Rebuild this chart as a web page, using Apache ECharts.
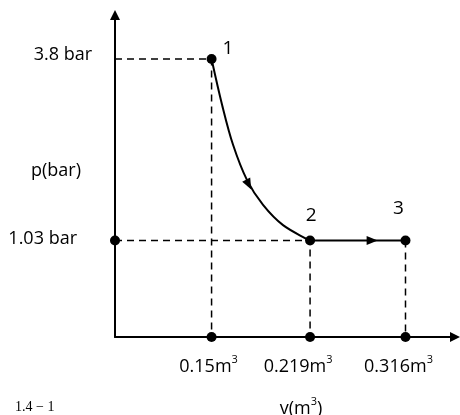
<!DOCTYPE html>
<html>
<head>
<meta charset="utf-8">
<script src="https://cdn.jsdelivr.net/npm/echarts@6/dist/echarts.min.js"></script>
<style>
  html, body { margin: 0; padding: 0; background: #fff; }
  #chart { width: 460px; height: 415px; }
</style>
</head>
<body>
<div id="chart"></div>
<script>
// state points 1, 2, 3
const stateNames = ['1', '2', '3'];
const volume = [0.15, 0.219, 0.316];   // m³
const pressure = [3.8, 1.03, 1.03];    // bar

// tick labels
const volumeLabels = ['0.15', '0.219', '0.316'];
const pressureTicks = [3.8, 1.03];
const pressureLabels = ['3.8 bar', '1.03 bar'];

// process 1 -> 2
const curveV = [0.15, 0.1562, 0.1629, 0.1719, 0.1828, 0.1974, 0.219];
const curveP = [3.8, 2.73, 2.05, 1.59, 1.33, 1.15, 1.03];

// direction arrows on the paths
const arrowV = [0.173, 0.278];
const arrowP = [1.54, 1.03];
const arrowAngle = [-153, -90];

// axis extents (sketch is drawn on log-like spacing)
const V_MIN = 0.1035, V_MAX = 0.3822;
const P_MIN = 0.5145, P_MAX = 5.214;

const FONT = '"Open Sans", "Noto Sans", sans-serif';
const BLACK = '#000';

// layout tweaks for the labels
const stateLabelPos = [
  { position: 'right', offset: [1, -10] },
  { position: 'top', offset: [1, -5] },
  { position: 'top', offset: [-7, -12] },
];
const volumeLabelShift = [-3, -12, -7];
const pressureLabelGap = [23, 33];
const pressureLabelLift = [-4.5, -2];

const supRich = {
  a: { fontFamily: FONT, fontSize: 18, color: BLACK, lineHeight: 20, padding: [6, 0, 0, 0] },
  s: { fontFamily: FONT, fontSize: 11, color: BLACK, lineHeight: 11, verticalAlign: 'top' },
};

const chart = echarts.init(document.getElementById('chart'), null, { renderer: 'canvas' });

const dashed = { color: BLACK, width: 1.5, type: [7, 5] };

// dashed guides from each state to the axes
const guideSeries = volume.map((v, i) => {
  const firstAtLevel = pressure.indexOf(pressure[i]) === i;
  const data = firstAtLevel
    ? [[V_MIN, pressure[i]], [v, pressure[i]], [v, P_MIN]]
    : [[v, pressure[i]], [v, P_MIN]];
  return {
    type: 'line',
    data,
    showSymbol: false,
    clip: false,
    silent: true,
    lineStyle: dashed,
    z: 1,
  };
});

const dot = { color: BLACK, opacity: 1 };

const option = {
  animation: false,
  backgroundColor: '#fff',
  grid: { left: 115, right: 5, top: 15, bottom: 78, outerBoundsMode: 'none', containLabel: false },
  xAxis: {
    type: 'log',
    min: V_MIN,
    max: V_MAX,
    name: '{a|v(m}{s|3}{a|)}',
    nameLocation: 'middle',
    nameGap: 59,
    nameTextStyle: { rich: supRich, padding: [0, 0, 0, 32] },
    axisLine: {
      lineStyle: { color: BLACK, width: 2 },
      symbol: ['none', 'triangle'],
      symbolSize: [10, 10],
    },
    axisTick: { show: false },
    axisLabel: { show: false },
    splitLine: { show: false },
  },
  yAxis: {
    type: 'log',
    min: P_MIN,
    max: P_MAX,
    name: 'p(bar)',
    nameLocation: 'middle',
    nameRotate: 0,
    nameGap: 34,
    nameTextStyle: {
      fontFamily: FONT,
      fontSize: 18,
      color: BLACK,
      verticalAlign: 'bottom',
      lineHeight: 10,
    },
    axisLine: {
      lineStyle: { color: BLACK, width: 2 },
      symbol: ['none', 'triangle'],
      symbolSize: [10, 10],
    },
    axisTick: { show: false },
    axisLabel: { show: false },
    splitLine: { show: false },
  },
  graphic: [
    {
      type: 'text',
      left: 15,
      top: 400,
      style: { text: '1.4 \u2212 1', font: '14px "Liberation Serif"', fill: BLACK },
    },
  ],
  series: [
    ...guideSeries,
    // process 1 -> 2
    {
      type: 'line',
      data: curveV.map((v, i) => [v, curveP[i]]),
      smooth: 0.35,
      showSymbol: false,
      clip: false,
      lineStyle: { color: BLACK, width: 2 },
      z: 2,
    },
    // process 2 -> 3
    {
      type: 'line',
      data: [[volume[1], pressure[1]], [volume[2], pressure[2]]],
      showSymbol: false,
      clip: false,
      lineStyle: { color: BLACK, width: 2 },
      z: 2,
    },
    // arrows
    {
      type: 'scatter',
      data: arrowV.map((v, i) => ({ value: [v, arrowP[i]], symbolRotate: arrowAngle[i] })),
      symbol: 'triangle',
      symbolSize: [9, 11],
      clip: false,
      itemStyle: dot,
      z: 3,
    },
    // state points
    {
      type: 'scatter',
      data: volume.map((v, i) => ({
        value: [v, pressure[i]],
        label: {
          show: true,
          formatter: stateNames[i],
          position: stateLabelPos[i].position,
          offset: stateLabelPos[i].offset,
        },
      })),
      symbolSize: 10,
      clip: false,
      itemStyle: dot,
      label: { fontFamily: FONT, fontSize: 19, color: BLACK },
      z: 4,
    },
    // volume ticks on the v axis
    {
      type: 'scatter',
      data: volume.map((v, i) => ({
        value: [v, P_MIN],
        label: { offset: [volumeLabelShift[i], 0] },
      })),
      symbolSize: 10,
      clip: false,
      itemStyle: dot,
      label: {
        show: true,
        position: 'bottom',
        distance: 12,
        formatter: (p) => '{a|' + volumeLabels[p.dataIndex] + 'm}{s|3}',
        rich: supRich,
      },
      z: 4,
    },
    // pressure ticks on the p axis
    {
      type: 'scatter',
      data: pressureTicks.map((p, i) => ({
        value: [V_MIN, p],
        symbolSize: i === 0 ? 0 : 10,
        label: {
          show: true,
          formatter: pressureLabels[i],
          position: 'left',
          distance: pressureLabelGap[i],
          offset: [0, pressureLabelLift[i]],
        },
      })),
      clip: false,
      itemStyle: dot,
      label: { fontFamily: FONT, fontSize: 18, color: BLACK },
      z: 4,
    },
  ],
};

chart.setOption(option);
</script>
</body>
</html>
